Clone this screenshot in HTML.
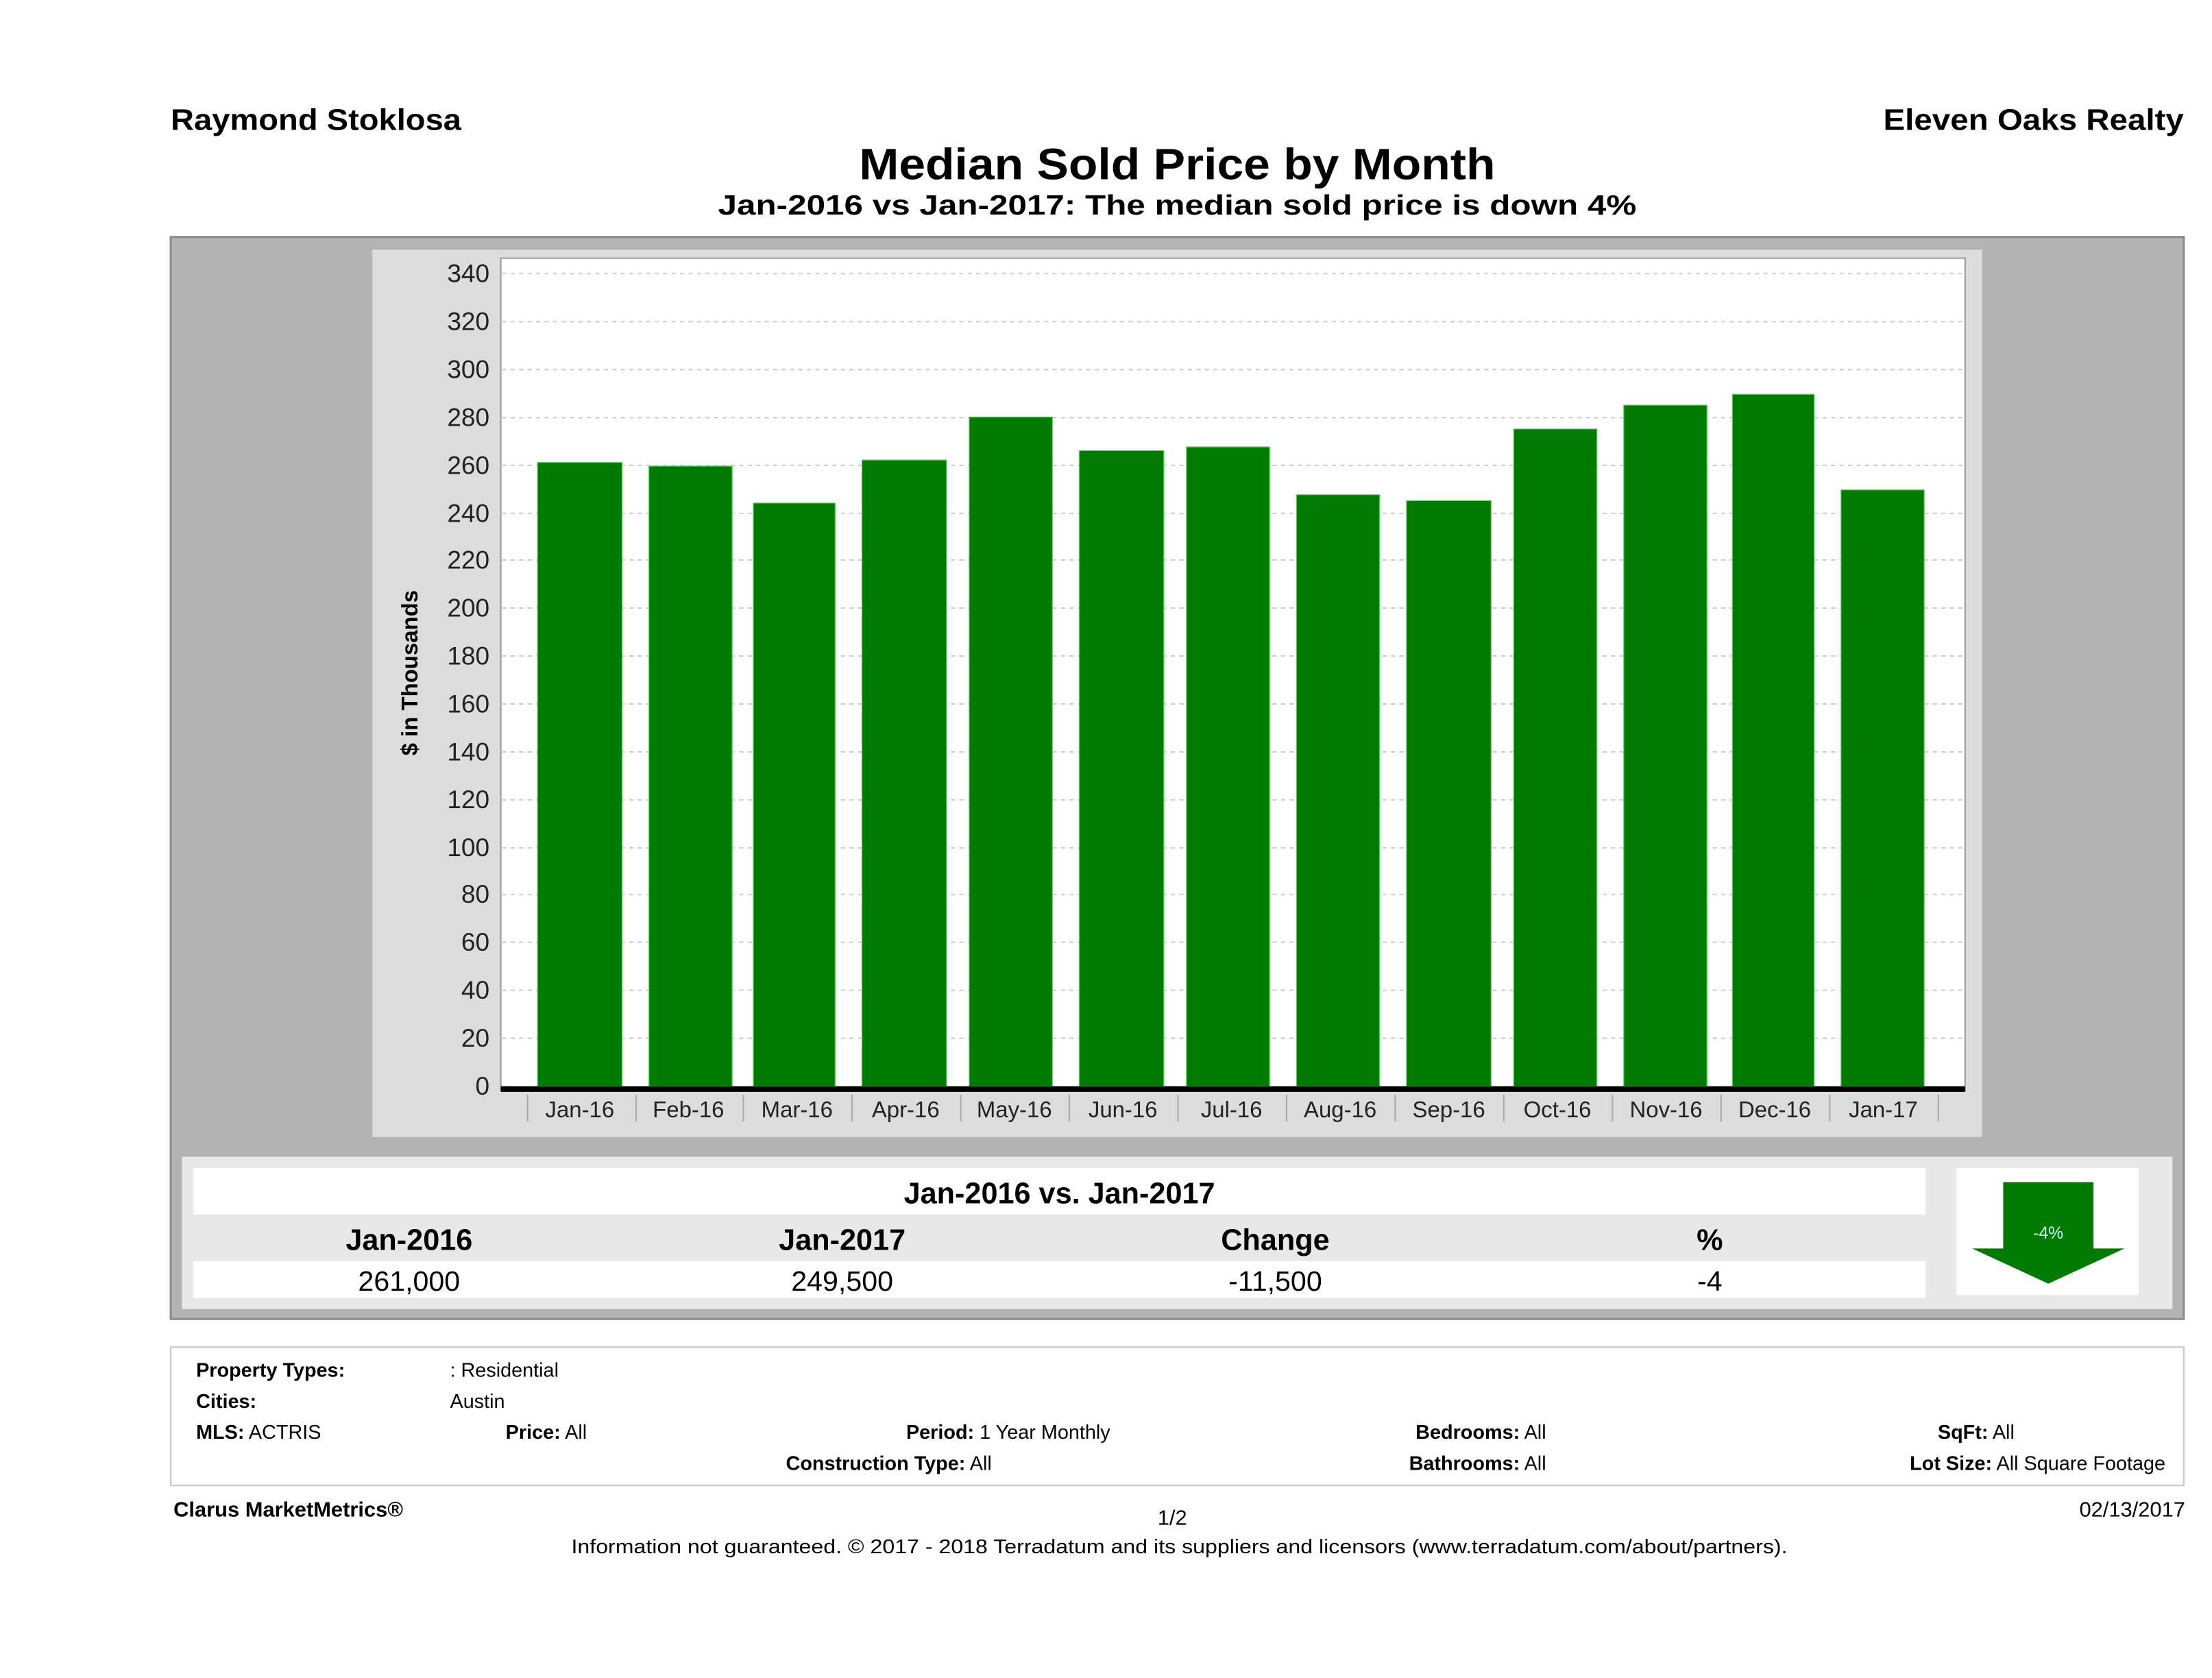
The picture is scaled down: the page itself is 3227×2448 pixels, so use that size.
<!DOCTYPE html>
<html><head><meta charset="utf-8"><style>html,body{margin:0;padding:0;background:#fff}svg{display:block}</style></head>
<body>
<svg width="3227" height="2448" viewBox="0 0 1568 1189.5" preserveAspectRatio="none" xmlns="http://www.w3.org/2000/svg" font-family="'Liberation Sans', sans-serif">
<rect width="1568" height="1190" fill="#fff"/>
<text x="121" y="92" font-size="21" font-weight="bold" textLength="206" lengthAdjust="spacingAndGlyphs">Raymond Stoklosa</text>
<text x="1335" y="92" font-size="21" font-weight="bold" textLength="213" lengthAdjust="spacingAndGlyphs">Eleven Oaks Realty</text>
<text x="609" y="127" font-size="31" font-weight="bold" textLength="451" lengthAdjust="spacingAndGlyphs">Median Sold Price by Month</text>
<text x="509" y="152" font-size="20" font-weight="bold" textLength="651" lengthAdjust="spacingAndGlyphs">Jan-2016 vs Jan-2017: The median sold price is down 4%</text>
<rect x="121" y="168" width="1427" height="767" fill="#b3b3b3" stroke="#8c8c8c" stroke-width="1.5"/>
<rect x="264" y="177" width="1141" height="629" fill="#dcdcdc"/>
<rect x="355" y="183" width="1038" height="590" fill="#fff" stroke="#999" stroke-width="1"/>
<g stroke="#ccc" stroke-width="1" stroke-dasharray="3,3">
<line x1="356" x2="1392" y1="194" y2="194"/><line x1="356" x2="1392" y1="228" y2="228"/><line x1="356" x2="1392" y1="262" y2="262"/><line x1="356" x2="1392" y1="296" y2="296"/><line x1="356" x2="1392" y1="330" y2="330"/><line x1="356" x2="1392" y1="364" y2="364"/><line x1="356" x2="1392" y1="397" y2="397"/><line x1="356" x2="1392" y1="431" y2="431"/><line x1="356" x2="1392" y1="465" y2="465"/><line x1="356" x2="1392" y1="499" y2="499"/><line x1="356" x2="1392" y1="533" y2="533"/><line x1="356" x2="1392" y1="567" y2="567"/><line x1="356" x2="1392" y1="601" y2="601"/><line x1="356" x2="1392" y1="634" y2="634"/><line x1="356" x2="1392" y1="668" y2="668"/><line x1="356" x2="1392" y1="702" y2="702"/><line x1="356" x2="1392" y1="736" y2="736"/>
</g>
<g fill="#007a00" stroke="#5fd35f" stroke-width="0.6">
<rect x="381" y="327.8" width="60" height="442.2"/><rect x="460" y="330.4" width="59" height="439.6"/><rect x="534" y="356.6" width="58" height="413.4"/><rect x="611" y="326.1" width="60" height="443.9"/><rect x="687" y="295.6" width="59" height="474.4"/><rect x="765" y="319.4" width="60" height="450.6"/><rect x="841" y="316.8" width="59" height="453.2"/><rect x="919" y="350.7" width="59" height="419.3"/><rect x="997" y="354.9" width="60" height="415.1"/><rect x="1073" y="304.1" width="59" height="465.9"/><rect x="1151" y="287.2" width="59" height="482.8"/><rect x="1228" y="279.5" width="58" height="490.5"/><rect x="1305" y="347.3" width="59" height="422.7"/>
</g>
<rect x="355" y="770" width="1038" height="4" fill="#000"/>
<g stroke="#aaa" stroke-width="1">
<line x1="374" x2="374" y1="776" y2="795"/><line x1="451" x2="451" y1="776" y2="795"/><line x1="527" x2="527" y1="776" y2="795"/><line x1="604" x2="604" y1="776" y2="795"/><line x1="681" x2="681" y1="776" y2="795"/><line x1="758" x2="758" y1="776" y2="795"/><line x1="835" x2="835" y1="776" y2="795"/><line x1="912" x2="912" y1="776" y2="795"/><line x1="989" x2="989" y1="776" y2="795"/><line x1="1066" x2="1066" y1="776" y2="795"/><line x1="1143" x2="1143" y1="776" y2="795"/><line x1="1220" x2="1220" y1="776" y2="795"/><line x1="1297" x2="1297" y1="776" y2="795"/><line x1="1374" x2="1374" y1="776" y2="795"/>
</g>
<g font-size="16" text-anchor="middle" fill="#222">
<text x="411" y="792">Jan-16</text><text x="488" y="792">Feb-16</text><text x="565" y="792">Mar-16</text><text x="642" y="792">Apr-16</text><text x="719" y="792">May-16</text><text x="796" y="792">Jun-16</text><text x="873" y="792">Jul-16</text><text x="950" y="792">Aug-16</text><text x="1027" y="792">Sep-16</text><text x="1104" y="792">Oct-16</text><text x="1181" y="792">Nov-16</text><text x="1258" y="792">Dec-16</text><text x="1335" y="792">Jan-17</text>
</g>
<g font-size="18" text-anchor="end" fill="#222">
<text x="347" y="200">340</text><text x="347" y="234">320</text><text x="347" y="268">300</text><text x="347" y="302">280</text><text x="347" y="336">260</text><text x="347" y="370">240</text><text x="347" y="403">220</text><text x="347" y="437">200</text><text x="347" y="471">180</text><text x="347" y="505">160</text><text x="347" y="539">140</text><text x="347" y="573">120</text><text x="347" y="607">100</text><text x="347" y="640">80</text><text x="347" y="674">60</text><text x="347" y="708">40</text><text x="347" y="742">20</text><text x="347" y="776">0</text>
</g>
<text transform="translate(296,477) rotate(-90)" font-size="16" font-weight="bold" text-anchor="middle">$ in Thousands</text>
<rect x="129" y="820" width="1411" height="108" fill="#e8e8e8"/>
<rect x="137" y="828" width="1228" height="33" fill="#fff"/>
<rect x="137" y="894" width="1228" height="26" fill="#fff"/>
<text x="751" y="853" font-size="21" font-weight="bold" text-anchor="middle">Jan-2016 vs. Jan-2017</text>
<g font-size="21" font-weight="bold" text-anchor="middle">
<text x="290" y="886">Jan-2016</text><text x="597" y="886">Jan-2017</text><text x="904" y="886">Change</text><text x="1212" y="886">%</text></g>
<g font-size="20" text-anchor="middle">
<text x="290" y="915">261,000</text><text x="597" y="915">249,500</text><text x="904" y="915">-11,500</text><text x="1212" y="915">-4</text></g>
<rect x="1387" y="828" width="129" height="90" fill="#fff"/>
<polygon points="1420,838 1484,838 1484,885 1506,885 1452,910 1398,885 1420,885" fill="#007a00"/>
<text x="1452" y="878" font-size="12" fill="#cfe" text-anchor="middle">-4%</text>
<rect x="121" y="955" width="1427" height="98" fill="#fff" stroke="#ccc" stroke-width="1.2"/>
<g font-size="14">
<text x="139" y="976" font-weight="bold">Property Types:</text><text x="319" y="976">: Residential</text>
<text x="139" y="998" font-weight="bold">Cities:</text><text x="319" y="998">Austin</text>
<text x="139" y="1020"><tspan font-weight="bold">MLS:</tspan>  ACTRIS</text>
<text x="416" y="1020" text-anchor="end"><tspan font-weight="bold">Price:</tspan> All</text>
<text x="787" y="1020" text-anchor="end"><tspan font-weight="bold">Period:</tspan> 1 Year Monthly</text>
<text x="703" y="1042" text-anchor="end"><tspan font-weight="bold">Construction Type:</tspan> All</text>
<text x="1096" y="1020" text-anchor="end"><tspan font-weight="bold">Bedrooms:</tspan> All</text>
<text x="1096" y="1042" text-anchor="end"><tspan font-weight="bold">Bathrooms:</tspan> All</text>
<text x="1428" y="1020" text-anchor="end"><tspan font-weight="bold">SqFt:</tspan> All</text>
<text x="1535" y="1042" text-anchor="end"><tspan font-weight="bold">Lot Size:</tspan> All Square Footage</text>
</g>
<text x="123" y="1075" font-size="15" font-weight="bold">Clarus MarketMetrics®</text>
<text x="831" y="1081" font-size="15" text-anchor="middle">1/2</text>
<text x="1549" y="1075" font-size="15" text-anchor="end">02/13/2017</text>
<text x="405" y="1101" font-size="14" textLength="862" lengthAdjust="spacingAndGlyphs">Information not guaranteed. © 2017 - 2018 Terradatum and its suppliers and licensors (www.terradatum.com/about/partners).</text>
</svg>
</body></html>
